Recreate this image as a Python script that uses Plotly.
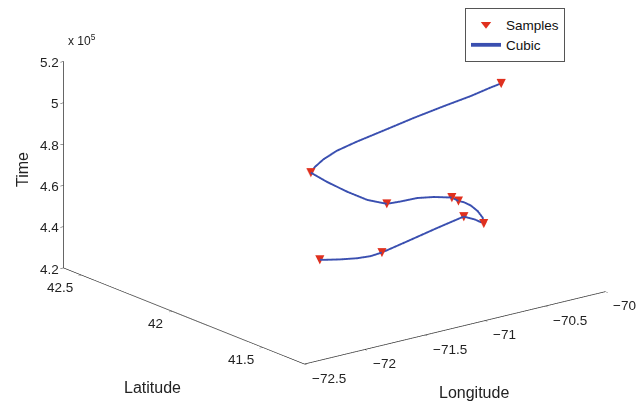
import plotly.graph_objects as go

# Samples (longitude, latitude, time)
sample_lon = [-71.20, -71.00, -70.35, -70.47, -70.47, -70.54, -71.20, -71.59, -70.25]
sample_lat = [42.05, 41.84, 41.82, 41.63, 41.77, 41.76, 41.68, 41.84, 41.68]
sample_time = [425000, 433000, 442000, 447000, 453000, 456000, 465000, 480000, 510000]

# Cubic curve
curve_lon = [-71.20, -71.213, -71.173, -71.124, -71.067, -71.00, -70.781, -70.563, -70.35,
             -70.397, -70.47, -70.427, -70.408, -70.411, -70.436, -70.47, -70.54,
             -70.679, -70.832, -71.030, -71.20, -71.330, -71.435, -71.519, -71.59,
             -71.534, -71.435, -71.307, -71.165, -70.988, -70.776, -70.573, -70.409,
             -70.275, -70.25]
curve_lat = [42.05, 42.024, 41.957, 41.896, 41.859, 41.84, 41.834, 41.829, 41.82,
             41.727, 41.63, 41.664, 41.704, 41.740, 41.761, 41.77, 41.76,
             41.766, 41.756, 41.716, 41.68, 41.701, 41.742, 41.798, 41.84,
             41.854, 41.874, 41.885, 41.869, 41.838, 41.813, 41.781, 41.741,
             41.720, 41.68]
curve_time = [425000, 426000, 428000, 430000, 431500, 433000, 436000, 439000, 442000,
              444500, 447000, 448000, 449500, 451000, 452200, 453000, 456000,
              458000, 460000, 462500, 465000, 468000, 472000, 476000, 480000,
              481500, 483000, 485000, 488000, 492000, 496000, 500000, 504000,
              507000, 510000]

lon_range = [-72.5, -70]
lat_range = [41.27, 42.6]
time_range = [420000, 520000]
lon_ticks = [-72.5, -72, -71.5, -71, -70.5, -70]
lon_ticktext = ["\u221272.5", "\u221272", "\u221271.5", "\u221271", "\u221270.5", "\u221270"]
lat_ticks = [41.5, 42, 42.5]
lat_ticktext = ["41.5", "42", "42.5"]
time_ticks = [420000, 440000, 460000, 480000, 500000, 520000]
time_ticktext = ["4.2", "4.4", "4.6", "4.8", "5", "5.2"]

FONT = "Liberation Sans, Arial, sans-serif"
RED = "#e0301e"
BLUE = "#3a4fb0"
TICKFONT = dict(family=FONT, size=13.5, color="#222")

fig = go.Figure()

# legend proxy for samples
fig.add_trace(go.Scatter(x=[None], y=[None], mode="markers", name="Samples",
                         legendgroup="s", hoverinfo="skip",
                         marker=dict(symbol="triangle-down", color=RED, size=9)))

fig.add_trace(go.Scatter3d(x=curve_lon, y=curve_lat, z=curve_time, mode="lines",
                           name="Cubic", hoverinfo="skip",
                           line=dict(color=BLUE, width=3.8)))

fig.add_trace(go.Scatter3d(x=sample_lon, y=sample_lat, z=sample_time, mode="text",
                           text=["▼"] * len(sample_lon), textposition="middle center",
                           textfont=dict(color=RED, size=12, family="DejaVu Sans"),
                           hoverinfo="skip",
                           name="Samples", legendgroup="s", showlegend=False))

axis_common = dict(showgrid=False, showbackground=False, zeroline=False,
                   showline=True, linecolor="#333", linewidth=1.5,
                   ticks="outside", ticklen=4, tickcolor="#333",
                   showticklabels=False,
                   showspikes=False, title=dict(text=""))

# tick labels as scene annotations anchored at the tick positions
scene_anns = []
for v, t in zip(lon_ticks, lon_ticktext):
    scene_anns.append(dict(x=v, y=lat_range[0], z=time_range[0], text=t, showarrow=False,
                           xanchor="left", yanchor="middle", xshift=6, yshift=-14,
                           font=TICKFONT))
for v, t in zip(lat_ticks, lat_ticktext):
    scene_anns.append(dict(x=lon_range[0], y=v, z=time_range[0], text=t, showarrow=False,
                           xanchor="right", yanchor="middle", xshift=-7, yshift=-12,
                           font=TICKFONT))
for v, t in zip(time_ticks, time_ticktext):
    scene_anns.append(dict(x=lon_range[0] + 0.01, y=lat_range[1] - 0.02, z=v, text=t,
                           showarrow=False,
                           xanchor="right", yanchor="middle", xshift=-7, yshift=0,
                           font=TICKFONT))

fig.update_layout(
    width=642, height=404,
    margin=dict(l=0, r=0, t=0, b=0),
    paper_bgcolor="white", plot_bgcolor="white",
    font=dict(family=FONT, size=12, color="#222"),
    xaxis=dict(visible=False), yaxis=dict(visible=False),
    hovermode=False,
    scene=dict(
        domain=dict(x=[0.0, 1.0], y=[0.0, 1.0]),
        xaxis=dict(range=lon_range, tickvals=lon_ticks, **axis_common),
        yaxis=dict(range=lat_range, tickvals=lat_ticks, **axis_common),
        zaxis=dict(range=time_range, tickvals=time_ticks, **axis_common),
        aspectmode="manual", aspectratio=dict(x=1.887, y=1.944, z=1.075),
        camera=dict(projection=dict(type="orthographic"),
                    eye=dict(x=-1.2188, y=-1.461, z=0.4874),
                    up=dict(x=0, y=0, z=1),
                    center=dict(x=-0.0528, y=0.041, z=-0.1326)),
        annotations=scene_anns,
    ),
    legend=dict(x=465 / 642, y=1 - 8 / 404, xanchor="left", yanchor="top",
                bordercolor="#555", borderwidth=1, bgcolor="white",
                font=dict(family=FONT, size=13.5, color="#111"),
                tracegroupgap=0, itemwidth=30),
)

# axis titles placed at pixel positions, converted to paper coordinates
labels = [
    dict(text="Time", px=22.5, py=169.5, textangle=-90, size=16),
    dict(text="Latitude", px=152.5, py=387, textangle=0, size=16),
    dict(text="Longitude", px=473.5, py=392, textangle=0, size=16),
    dict(text="x 10<sup>5</sup>", px=82, py=40, textangle=0, size=12),
]
fig.update_layout(annotations=[
    dict(text=l["text"], x=l["px"] / 642, y=1 - l["py"] / 404, xref="paper", yref="paper",
         xanchor="center", yanchor="middle",
         showarrow=False, textangle=l["textangle"], font=dict(size=l["size"], color="#222"))
    for l in labels
])

fig.write_html("out.html", config={"displayModeBar": False},
               post_script="document.body.style.margin='0';document.body.style.padding='0';")
